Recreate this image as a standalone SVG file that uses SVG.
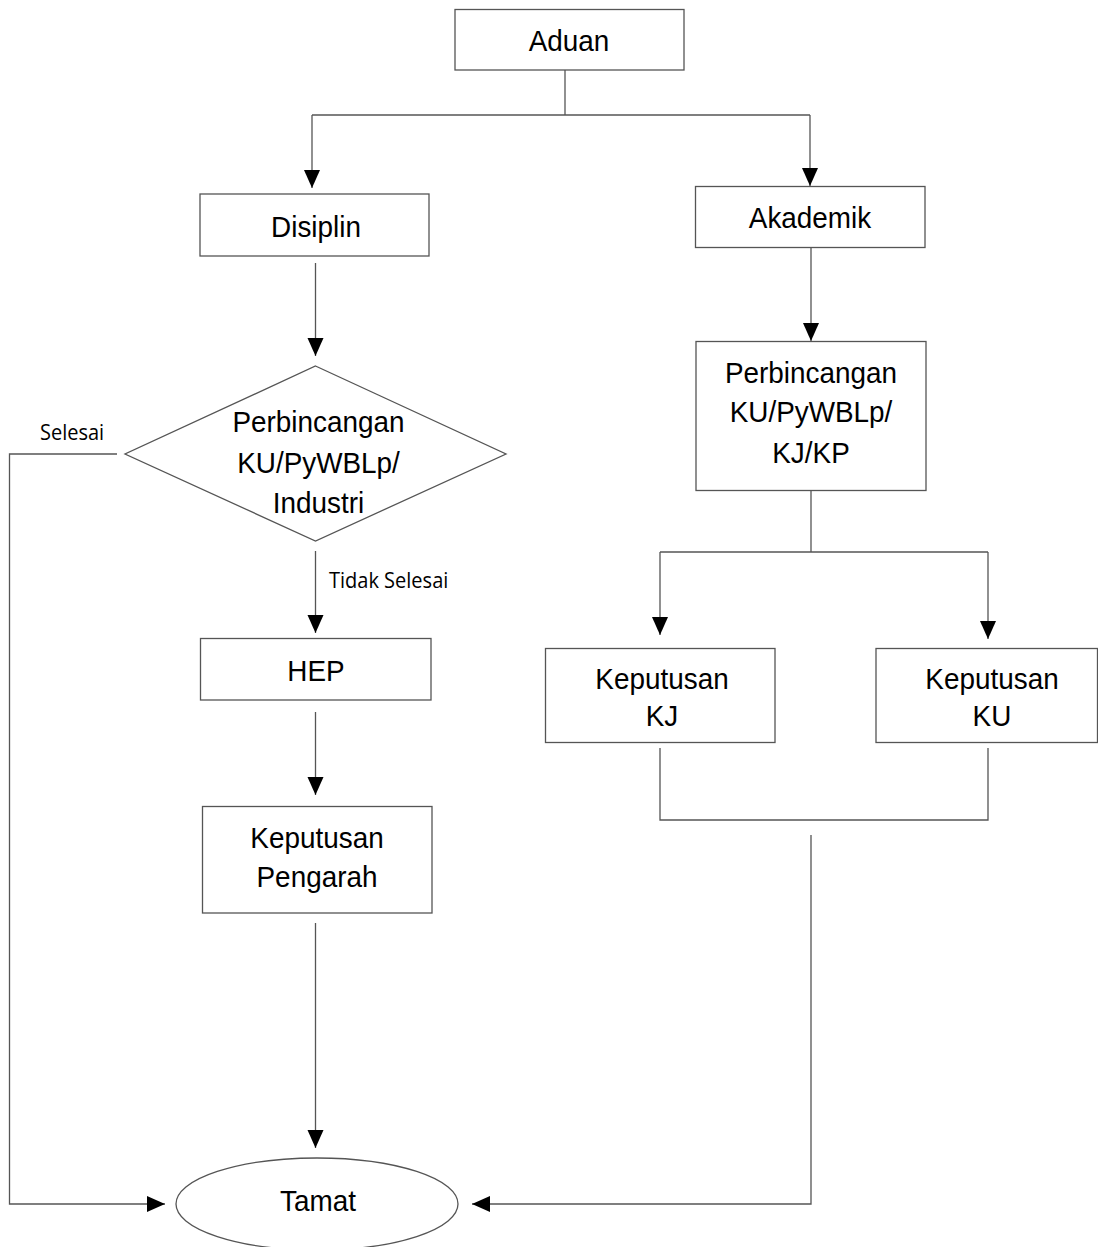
<svg xmlns="http://www.w3.org/2000/svg" width="1098" height="1247" viewBox="0 0 1098 1247">
<style>
.box{fill:#fff;stroke:#555;stroke-width:1.3}
.ln{fill:none;stroke:#555;stroke-width:1.3}
.t{font-family:"Liberation Sans",Arial,sans-serif;font-size:30px;fill:#000;text-anchor:middle;transform-box:fill-box;transform-origin:center;transform:scale(0.93,1)}
.lb{font-family:"Open Sans",sans-serif;font-size:22px;fill:#000;transform-box:fill-box;transform-origin:left center;transform:scale(0.91,1)}
</style>
<defs>
<marker id="ah" markerUnits="userSpaceOnUse" markerWidth="18" markerHeight="20" viewBox="0 0 18 20" refX="18" refY="8" orient="auto">
<path d="M0,0 L18,8 L0,16 Z" fill="#000"/>
</marker>
</defs>
<g id="connectors">
<path class="ln" d="M565,70 V115"/>
<path class="ln" d="M312,115 H810"/>
<path class="ln" d="M312,115 V188" marker-end="url(#ah)"/>
<path class="ln" d="M810,115 V186" marker-end="url(#ah)"/>
<path class="ln" d="M315.5,263 V356" marker-end="url(#ah)"/>
<path class="ln" d="M811,247 V341" marker-end="url(#ah)"/>
<path class="ln" d="M117,454 H9.5 V1204 H165" marker-end="url(#ah)"/>
<path class="ln" d="M315.5,551 V633" marker-end="url(#ah)"/>
<path class="ln" d="M315.5,712 V795" marker-end="url(#ah)"/>
<path class="ln" d="M315.5,923 V1148" marker-end="url(#ah)"/>
<path class="ln" d="M811,490 V552"/>
<path class="ln" d="M660,552 H988"/>
<path class="ln" d="M660,552 V635" marker-end="url(#ah)"/>
<path class="ln" d="M988,552 V639" marker-end="url(#ah)"/>
<path class="ln" d="M660,748 V820 H988 V748"/>
<path class="ln" d="M811,835 V1204 H472" marker-end="url(#ah)"/>
<text class="lb" x="40" y="440">Selesai</text>
<text class="lb" x="329" y="588">Tidak Selesai</text>
</g>
<g id="aduan">
<rect class="box" x="455" y="9.5" width="229" height="60.5"/>
<text class="t" x="569" y="51">Aduan</text>
</g>
<g id="disiplin">
<rect class="box" x="200" y="194" width="229" height="62"/>
<text class="t" x="316" y="237">Disiplin</text>
</g>
<g id="akademik">
<rect class="box" x="695.5" y="186.5" width="229.5" height="61"/>
<text class="t" x="810" y="228">Akademik</text>
</g>
<g id="perbincangan-disiplin">
<polygon class="box" points="315.5,366 506,454 315.5,541 125,454"/>
<text class="t" x="318.5" y="432">Perbincangan</text>
<text class="t" x="318.5" y="473">KU/PyWBLp/</text>
<text class="t" x="318.5" y="513">Industri</text>
</g>
<g id="hep">
<rect class="box" x="200.5" y="638.5" width="230.5" height="61.5"/>
<text class="t" x="316" y="681">HEP</text>
</g>
<g id="keputusan-pengarah">
<rect class="box" x="202.5" y="806.5" width="229.5" height="106.5"/>
<text class="t" x="317" y="848">Keputusan</text>
<text class="t" x="317" y="887">Pengarah</text>
</g>
<g id="perbincangan-akademik">
<rect class="box" x="696" y="341.5" width="230" height="149"/>
<text class="t" x="811" y="383">Perbincangan</text>
<text class="t" x="811" y="422">KU/PyWBLp/</text>
<text class="t" x="811" y="463">KJ/KP</text>
</g>
<g id="keputusan-kj">
<rect class="box" x="545.5" y="648.5" width="229.5" height="94"/>
<text class="t" x="662" y="689">Keputusan</text>
<text class="t" x="662" y="726">KJ</text>
</g>
<g id="keputusan-ku">
<rect class="box" x="876" y="648.5" width="221.5" height="94"/>
<text class="t" x="992" y="689">Keputusan</text>
<text class="t" x="992" y="726">KU</text>
</g>
<g id="tamat">
<ellipse class="box" cx="317" cy="1204" rx="141" ry="46"/>
<text class="t" x="318" y="1211">Tamat</text>
</g>
</svg>
